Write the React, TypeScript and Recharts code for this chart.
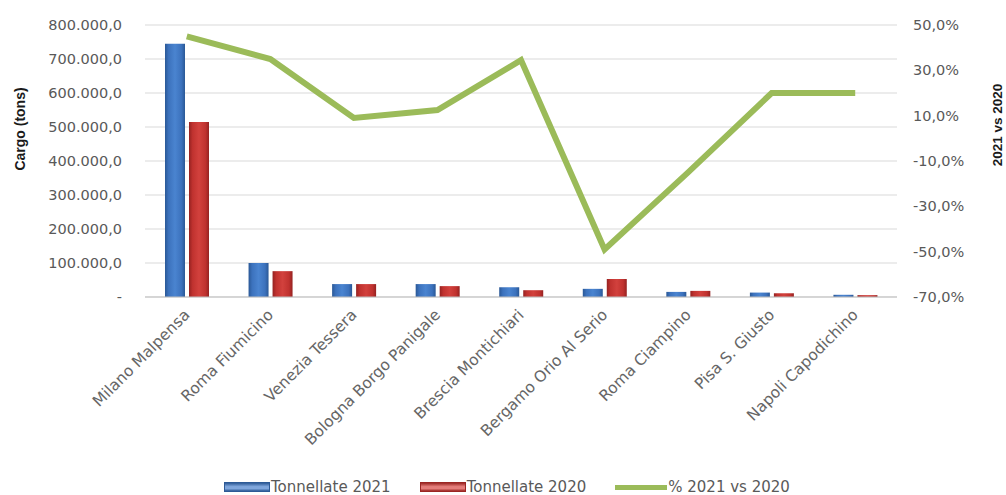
import React from 'react';
import {
  ComposedChart, Bar, Line, XAxis, YAxis, CartesianGrid, Legend, Label,
} from 'recharts';

const categories = [
  'Milano Malpensa', 'Roma Fiumicino', 'Venezia Tessera', 'Bologna Borgo Panigale',
  'Brescia Montichiari', 'Bergamo Orio Al Serio', 'Roma Ciampino', 'Pisa S. Giusto',
  'Napoli Capodichino',
];
const tonnellate2021 = [745000, 100000, 38000, 38000, 29000, 24000, 15000, 13000, 6500];
const tonnellate2020 = [515000, 76000, 38000, 32000, 20000, 53000, 18000, 11000, 5500];
const pct2021vs2020 = [45, 35, 9, 12.5, 34.5, -49, -15, 20, 20];

const leftTicks = [0, 100000, 200000, 300000, 400000, 500000, 600000, 700000, 800000];
const rightTicks = [-70, -50, -30, -10, 10, 30, 50];

const data = categories.map((name, i) => ({
  name,
  t2021: tonnellate2021[i],
  t2020: tonnellate2020[i],
  pct: pct2021vs2020[i],
}));

const FONT = '"DejaVu Sans", sans-serif';
const TEXT = '#595959';

const fmtLeft = (v: number) => {
  if (v === 0) return '-';
  const s = Math.round(v).toString().replace(/\B(?=(\d{3})+(?!\d))/g, '.');
  return `${s},0`;
};
const fmtRight = (v: number) => `${v.toFixed(1).replace('.', ',')}%`;

const XTick = (props: any) => {
  const { x, y, payload } = props;
  return (
    <g transform={`translate(${x},${y})`}>
      <text
        x={0}
        y={0}
        dy="0.35em"
        textAnchor="end"
        transform="rotate(-45)"
        fill="#666666"
        fontSize={15.5}
        fontFamily={FONT}
      >
        {payload.value}
      </text>
    </g>
  );
};

const LegendContent = () => {
  const item = (swatch: React.ReactNode, text: string, gap: number) => (
    <div style={{ display: 'flex', alignItems: 'center', marginRight: gap }}>
      {swatch}
      <span style={{ marginLeft: 1, color: TEXT, fontSize: 15, fontFamily: FONT }}>{text}</span>
    </div>
  );
  const box = (c1: string, c2: string) => (
    <div
      style={{
        width: 46,
        height: 10,
        background: `linear-gradient(to bottom, ${c2}, ${c1} 45%, ${c1} 70%, ${c2})`,
        border: `1px solid ${c2}`,
        boxSizing: 'border-box',
      }}
    />
  );
  return (
    <div
      style={{
        display: 'flex',
        justifyContent: 'flex-start',
        alignItems: 'center',
        paddingLeft: 216,
        height: 40,
        paddingTop: 24,
        boxSizing: 'border-box',
      }}
    >
      {item(box('#7fa6dc', '#2d5a96'), 'Tonnellate 2021', 29)}
      {item(box('#e47d7a', '#9b2623'), 'Tonnellate 2020', 29)}
      {item(<div style={{ width: 52, height: 5, background: '#9BBB59' }} />, '% 2021 vs 2020', 0)}
    </div>
  );
};

const LeftTitle = (props: any) => {
  const { viewBox } = props;
  const cx = viewBox.x + 12;
  const cy = viewBox.y + 104;
  return (
    <text
      x={cx}
      y={cy}
      transform={`rotate(-90, ${cx}, ${cy})`}
      textAnchor="middle"
      dominantBaseline="central"
      fontFamily='"Liberation Sans", sans-serif'
      fontWeight="bold"
      fontSize={14}
      fill="#1a1a1a"
    >
      Cargo (tons)
    </text>
  );
};

const RightTitle = (props: any) => {
  const { viewBox } = props;
  const cx = viewBox.x + 100;
  const cy = viewBox.y + 100;
  return (
    <text
      x={cx}
      y={cy}
      transform={`rotate(-90, ${cx}, ${cy})`}
      textAnchor="middle"
      dominantBaseline="central"
      fontFamily='"Liberation Sans", sans-serif'
      fontWeight="bold"
      fontSize={13.5}
      fill="#1a1a1a"
    >
      2021 vs 2020
    </text>
  );
};

export default function App() {
  return (
    <div style={{ position: 'absolute', left: 0, top: 0, width: 1006, height: 495, background: '#fff' }}>
      <ComposedChart
        width={1006}
        height={495}
        data={data}
        margin={{ top: 25, right: 16, bottom: 0, left: 8 }}
        barGap={4}
        barCategoryGap="24%"
      >
        <defs>
          <linearGradient id="gBlue" x1="0" y1="0" x2="1" y2="0">
            <stop offset="0%" stopColor="#2a5896" />
            <stop offset="18%" stopColor="#3c72bd" />
            <stop offset="50%" stopColor="#4a84d0" />
            <stop offset="82%" stopColor="#3c72bd" />
            <stop offset="100%" stopColor="#2a5896" />
          </linearGradient>
          <linearGradient id="gRed" x1="0" y1="0" x2="1" y2="0">
            <stop offset="0%" stopColor="#952221" />
            <stop offset="18%" stopColor="#c0322f" />
            <stop offset="50%" stopColor="#d2413d" />
            <stop offset="82%" stopColor="#c0322f" />
            <stop offset="100%" stopColor="#952221" />
          </linearGradient>
        </defs>
        <CartesianGrid yAxisId="left" vertical={false} stroke="#d9d9d9" />
        <XAxis
          dataKey="name"
          interval={0}
          height={158}
          tick={<XTick />}
          tickLine={false}
          tickMargin={9}
          axisLine={{ stroke: '#bfbfbf' }}
        />
        <YAxis
          yAxisId="left"
          orientation="left"
          width={137}
          domain={[0, 800000]}
          ticks={leftTicks}
          tickFormatter={fmtLeft}
          tickLine={false}
          axisLine={false}
          tickMargin={17}
          tick={{ fill: TEXT, fontSize: 14.5, fontFamily: FONT }}
        >
          <Label content={<LeftTitle />} />
        </YAxis>
        <YAxis
          yAxisId="right"
          orientation="right"
          width={93}
          domain={[-70, 50]}
          ticks={rightTicks}
          tickFormatter={fmtRight}
          tickLine={false}
          axisLine={false}
          tickMargin={10}
          tick={{ fill: TEXT, fontSize: 14.5, fontFamily: FONT, textAnchor: 'start' }}
        >
          <Label content={<RightTitle />} />
        </YAxis>
        <Legend verticalAlign="bottom" height={40} content={<LegendContent />} />
        <Bar yAxisId="left" dataKey="t2021" name="Tonnellate 2021" fill="url(#gBlue)" barSize={20} isAnimationActive={false} />
        <Bar yAxisId="left" dataKey="t2020" name="Tonnellate 2020" fill="url(#gRed)" barSize={20} isAnimationActive={false} />
        <Line
          yAxisId="right"
          dataKey="pct"
          name="% 2021 vs 2020"
          stroke="#9BBB59"
          strokeWidth={6}
          dot={false}
          activeDot={false}
          type="linear"
          isAnimationActive={false}
        />
      </ComposedChart>
    </div>
  );
}
